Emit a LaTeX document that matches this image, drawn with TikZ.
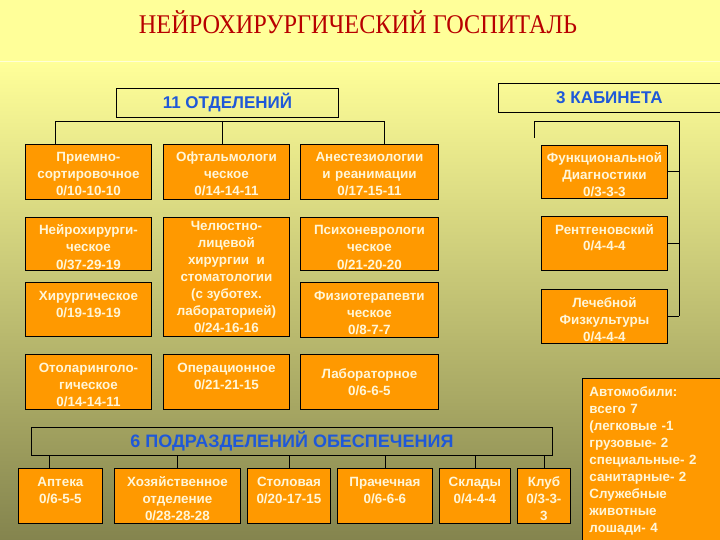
\documentclass[tikz,border=0pt]{standalone}
\usepackage{fontspec}
\setmainfont{Liberation Serif}
\setsansfont{Liberation Sans}
\newfontfamily\titlefont[FakeStretch=0.9]{Liberation Serif}
\usetikzlibrary{positioning}
\definecolor{bgtop}{HTML}{FFFF99}
\definecolor{bgmid}{HTML}{CDCD7C}
\definecolor{bgbot}{HTML}{84844E}
\definecolor{deptfill}{HTML}{FF9900}
\definecolor{depttext}{HTML}{FFF6D8}
\definecolor{headblue}{HTML}{1F58D8}
\definecolor{titlered}{HTML}{B80000}

\begin{document}
\begin{tikzpicture}[
  x=1pt,
  y=-1pt,
  dept/.style={draw=black, line width=0.9pt, fill=deptfill, text=depttext, anchor=north west, align=center, inner sep=1pt, font=\sffamily\bfseries\fontsize{13.4}{17}\selectfont},
  box/.style 2 args={text width={#1-2}, minimum height=#2, text height=16.5, text depth={#2-18.6}},
  head/.style={draw=black, line width=0.9pt, anchor=north west, text=headblue, font=\sffamily\bfseries\fontsize{17}{19}\selectfont},
  link/.style={line width=0.9pt, draw=black}
]
\useasboundingbox (0,0) rectangle (720,540);
\fill[bgtop] (0,0) rectangle (720,62);
\shade[top color=bgtop, middle color=bgmid, bottom color=bgbot] (0,62) rectangle (720,540);
\draw[bgtop!40!white, line width=1pt] (0,62) -- (720,62);

\node[text=titlered, font=\titlefont\fontsize{27}{30}\selectfont] (title) at (358,22) {НЕЙРОХИРУРГИЧЕСКИЙ ГОСПИТАЛЬ};

% heads
\node[head, minimum width=222, minimum height=29] (otdel) at (116,88) {11 ОТДЕЛЕНИЙ};
\node[head, minimum width=230, minimum height=29] (kabin) at (498,83) {\hspace*{-8pt}3 КАБИНЕТА};
\node[head, minimum width=521, minimum height=28, font=\sffamily\bfseries\fontsize{18}{20}\selectfont] (obesp) at (31,427) {6 ПОДРАЗДЕЛЕНИЙ ОБЕСПЕЧЕНИЯ};

% departments
\node[dept, box={126}{55}] (priem) at (25,144) {Приемно-\\сортировочное\\0/10-10-10};
\node[dept, box={126}{55}] (oftal) at (163,144) {Офтальмологи\\ческое\\0/14-14-11};
\node[dept, box={138}{55}] (anest) at (300,144) {Анестезиологии\\и реанимации\\0/17-15-11};
\node[dept, box={126}{53}] (neuro) at (25,217) {Нейрохирурги-\\ческое\\0/37-29-19};
\node[dept, box={126}{54}] (hirurg) at (25,282) {Хирургическое\\0/19-19-19};
\node[dept, minimum width=126, minimum height=119] (chel) at (163,217) {Челюстно-\\лицевой\\хирургии\ \ и\\стоматологии\\(с зуботех.\\лабораторией)\\0/24-16-16};
\node[dept, box={138}{53}] (psych) at (300,217) {Психоневрологи\\ческое\\0/21-20-20};
\node[dept, box={138}{55}] (fizio) at (300,282) {Физиотерапевти\\ческое\\0/8-7-7};
\node[dept, box={126}{55}] (otol) at (25,354) {Отоларинголо-\\гическое\\0/14-14-11};
\node[dept, box={126}{55}] (oper) at (163,354) {Операционное\\0/21-21-15};
\node[dept, minimum width=138, minimum height=55] (labor) at (300,354) {Лабораторное\\0/6-6-5};

% cabinets
\node[dept, box={126}{53}] (func) at (541,145) {Функциональной\\Диагностики\\0/3-3-3};
\node[dept, box={126}{54}] (rentg) at (541,216) {Рентгеновский\\0/4-4-4};
\node[dept, box={126}{54}] (lfk) at (541,289) {Лечебной\\Физкультуры\\0/4-4-4};

% support units
\node[dept, box={84}{55}] (apt) at (18,468) {Аптека\\0/6-5-5};
\node[dept, box={126}{55}] (hoz) at (114,468) {Хозяйственное\\отделение\\0/28-28-28};
\node[dept, box={83}{55}] (stol) at (247,468) {Столовая\\0/20-17-15};
\node[dept, box={95}{55}] (prach) at (337,468) {Прачечная\\0/6-6-6};
\node[dept, box={71}{55}] (sklad) at (439,468) {Склады\\0/4-4-4};
\node[dept, box={53}{55}] (klub) at (517,468) {Клуб\\0/3-3-\\3};
\node[dept, align=left, text width=128, inner xsep=7, inner ysep=8, text depth=180] (auto) at (582,378) {Автомобили:\\всего 7\\(легковые -1\\грузовые- 2\\специальные- 2\\санитарные- 2\\Служебные\\животные\\лошади- 4};

% brackets
\coordinate (b1) at (55,121);
\coordinate (b2) at (222,121);
\coordinate (b3) at (384,121);
\draw[link] (b1 |- priem.north) -- (b1) -- (b3) -- (b3 |- anest.north);
\draw[link] (b2) -- (b2 |- oftal.north);

\coordinate (k0) at (534,138);
\coordinate (k1) at (534,121);
\coordinate (k2) at (679,121);
\draw[link] (k0) -- (k1) -- (k2) -- (k2 |- lfk.east);
\draw[link] (func.east) -- (func.east -| k2);
\draw[link] (rentg.east) -- (rentg.east -| k2);
\draw[link] (lfk.east) -- (lfk.east -| k2);

\coordinate (s1) at (49,455);
\draw[link] (s1) -- (s1 |- apt.north);
\draw[link] (obesp.south -| hoz.north) -- (hoz.north);
\draw[link] (obesp.south -| stol.north) -- (stol.north);
\draw[link] (obesp.south -| prach.north) -- (prach.north);
\draw[link] (obesp.south -| sklad.north) -- (sklad.north);
\draw[link] (obesp.south -| klub.north) -- (klub.north);
\end{tikzpicture}
\end{document}
